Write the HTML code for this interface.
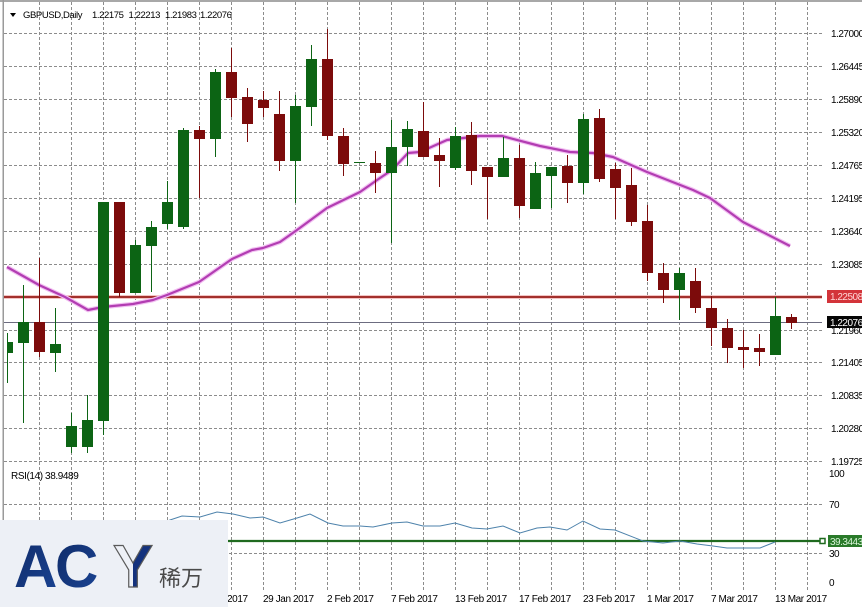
<!DOCTYPE html>
<html><head><meta charset="utf-8"><style>
html,body{margin:0;padding:0;background:#fff;}
svg{display:block;}
text{font-family:"Liberation Sans","Noto Sans CJK SC",sans-serif;}
</style></head><body>
<svg width="862" height="607" viewBox="0 0 862 607" xmlns="http://www.w3.org/2000/svg">
<defs>
<clipPath id="plot"><rect x="4" y="2" width="818" height="590"/></clipPath>
<linearGradient id="yg" x1="0" x2="1" y1="0" y2="0">
<stop offset="0" stop-color="#eef1f7"/><stop offset="0.5" stop-color="#eef1f7"/><stop offset="0.5" stop-color="#14327d"/><stop offset="1" stop-color="#14327d"/>
</linearGradient>
<linearGradient id="ag" x1="0" x2="1" y1="0" y2="1">
<stop offset="0" stop-color="#0f2a66"/><stop offset="1" stop-color="#1b4596"/>
</linearGradient>
</defs>
<rect width="862" height="607" fill="#fff"/>
<!-- borders -->
<rect x="0" y="0" width="862" height="2" fill="#a8a8a8"/>
<rect x="2.5" y="0" width="1.5" height="592" fill="#9a9a9a"/>
<!-- vertical grid -->
<g stroke="#8c8c8c" stroke-width="1" stroke-dasharray="3,2">
<line x1="39.5" y1="2" x2="39.5" y2="590"/><line x1="71.5" y1="2" x2="71.5" y2="590"/><line x1="103.5" y1="2" x2="103.5" y2="590"/><line x1="135.5" y1="2" x2="135.5" y2="590"/><line x1="167.5" y1="2" x2="167.5" y2="590"/><line x1="199.5" y1="2" x2="199.5" y2="590"/><line x1="231.5" y1="2" x2="231.5" y2="590"/><line x1="263.5" y1="2" x2="263.5" y2="590"/><line x1="295.5" y1="2" x2="295.5" y2="590"/><line x1="327.5" y1="2" x2="327.5" y2="590"/><line x1="359.5" y1="2" x2="359.5" y2="590"/><line x1="391.5" y1="2" x2="391.5" y2="590"/><line x1="423.5" y1="2" x2="423.5" y2="590"/><line x1="455.5" y1="2" x2="455.5" y2="590"/><line x1="487.5" y1="2" x2="487.5" y2="590"/><line x1="519.5" y1="2" x2="519.5" y2="590"/><line x1="551.5" y1="2" x2="551.5" y2="590"/><line x1="583.5" y1="2" x2="583.5" y2="590"/><line x1="615.5" y1="2" x2="615.5" y2="590"/><line x1="647.5" y1="2" x2="647.5" y2="590"/><line x1="679.5" y1="2" x2="679.5" y2="590"/><line x1="711.5" y1="2" x2="711.5" y2="590"/><line x1="743.5" y1="2" x2="743.5" y2="590"/><line x1="775.5" y1="2" x2="775.5" y2="590"/><line x1="807.5" y1="2" x2="807.5" y2="590"/>
</g>
<!-- horizontal grid -->
<g stroke="#8c8c8c" stroke-width="1" stroke-dasharray="3,2">
<line x1="4" y1="33.5" x2="822" y2="33.5"/><line x1="4" y1="66.5" x2="822" y2="66.5"/><line x1="4" y1="99.5" x2="822" y2="99.5"/><line x1="4" y1="132.5" x2="822" y2="132.5"/><line x1="4" y1="165.5" x2="822" y2="165.5"/><line x1="4" y1="198.5" x2="822" y2="198.5"/><line x1="4" y1="231.5" x2="822" y2="231.5"/><line x1="4" y1="264.5" x2="822" y2="264.5"/><line x1="4" y1="297.5" x2="822" y2="297.5"/><line x1="4" y1="330.5" x2="822" y2="330.5"/><line x1="4" y1="362.5" x2="822" y2="362.5"/><line x1="4" y1="395.5" x2="822" y2="395.5"/><line x1="4" y1="428.5" x2="822" y2="428.5"/><line x1="4" y1="461.5" x2="822" y2="461.5"/>
<line x1="4" y1="504.5" x2="822" y2="504.5"/><line x1="4" y1="553.5" x2="822" y2="553.5"/>
</g>
<!-- header -->
<polygon points="10,13 16,13 13,17" fill="#000"/>
<g font-size="9.5" fill="#000" letter-spacing="-0.4">
<text x="23" y="18">GBPUSD,Daily</text>
<text x="92" y="18">1.22175</text>
<text x="128.5" y="18">1.22213</text>
<text x="165" y="18">1.21983</text>
<text x="200" y="18">1.22076</text>
</g>
<g clip-path="url(#plot)">
<!-- red horizontal line -->
<line x1="4" y1="297" x2="827" y2="297" stroke="#f3c4c4" stroke-width="4"/>
<line x1="4" y1="297" x2="827" y2="297" stroke="#a3302c" stroke-width="2"/>
<!-- price line -->
<line x1="4" y1="322.5" x2="827" y2="322.5" stroke="#6c6c80" stroke-width="1"/>
<!-- MA -->
<polyline fill="none" stroke="#f2c0f2" stroke-width="4.5" stroke-linejoin="round" points="7,267 39,285 65,297 88,310 103,307 133,304 153,300 167,295 199,282 232,259 252,250 263,248 280,242 297,230 327,208 360,192 380,178 392,170 408,153 420,152 447,140 480,136 502,136 540,146 570,152 593,153 613,157 647,172 693,190 710,198 743,222 790,246"/>
<polyline fill="none" stroke="#b23db2" stroke-width="2.2" stroke-linejoin="round" points="7,267 39,285 65,297 88,310 103,307 133,304 153,300 167,295 199,282 232,259 252,250 263,248 280,242 297,230 327,208 360,192 380,178 392,170 408,153 420,152 447,140 480,136 502,136 540,146 570,152 593,153 613,157 647,172 693,190 710,198 743,222 790,246"/>
<!-- candles green -->
<g fill="#0c6414">
<rect x="7" y="333" width="1" height="50"/><rect x="7" y="342" width="6" height="11"/>
<rect x="23" y="285" width="1" height="138"/><rect x="18" y="322" width="11" height="21"/>
<rect x="55" y="308" width="1" height="64"/><rect x="50" y="344" width="11" height="9"/>
<rect x="71" y="413" width="1" height="40"/><rect x="66" y="426" width="11" height="21"/>
<rect x="87" y="395" width="1" height="58"/><rect x="82" y="420" width="11" height="27"/>
<rect x="103" y="202" width="1" height="233"/><rect x="98" y="202" width="11" height="219"/>
<rect x="135" y="240" width="1" height="53"/><rect x="130" y="245" width="11" height="48"/>
<rect x="151" y="221" width="1" height="71"/><rect x="146" y="227" width="11" height="19"/>
<rect x="167" y="181" width="1" height="48"/><rect x="162" y="202" width="11" height="22"/>
<rect x="183" y="128" width="1" height="101"/><rect x="178" y="130" width="11" height="97"/>
<rect x="215" y="69" width="1" height="88"/><rect x="210" y="72" width="11" height="67"/>
<rect x="295" y="95" width="1" height="108"/><rect x="290" y="106" width="11" height="55"/>
<rect x="311" y="45" width="1" height="81"/><rect x="306" y="59" width="11" height="48"/>
<rect x="354" y="162" width="11" height="1"/>
<rect x="391" y="120" width="1" height="123"/><rect x="386" y="147" width="11" height="26"/>
<rect x="407" y="121" width="1" height="45"/><rect x="402" y="129" width="11" height="18"/>
<rect x="455" y="127" width="1" height="43"/><rect x="450" y="136" width="11" height="32"/>
<rect x="503" y="137" width="1" height="40"/><rect x="498" y="158" width="11" height="19"/>
<rect x="535" y="162" width="1" height="47"/><rect x="530" y="173" width="11" height="36"/>
<rect x="551" y="167" width="1" height="41"/><rect x="546" y="167" width="11" height="9"/>
<rect x="583" y="114" width="1" height="80"/><rect x="578" y="119" width="11" height="64"/>
<rect x="679" y="268" width="1" height="52"/><rect x="674" y="273" width="11" height="17"/>
<rect x="775" y="297" width="1" height="58"/><rect x="770" y="316" width="11" height="39"/>
</g>
<!-- candles red -->
<g fill="#7c0b0b">
<rect x="39" y="258" width="1" height="99"/><rect x="34" y="322" width="11" height="30"/>
<rect x="119" y="202" width="1" height="95"/><rect x="114" y="202" width="11" height="91"/>
<rect x="199" y="126" width="1" height="72"/><rect x="194" y="130" width="11" height="9"/>
<rect x="231" y="48" width="1" height="69"/><rect x="226" y="72" width="11" height="26"/>
<rect x="247" y="88" width="1" height="54"/><rect x="242" y="97" width="11" height="27"/>
<rect x="263" y="91" width="1" height="26"/><rect x="258" y="100" width="11" height="8"/>
<rect x="279" y="91" width="1" height="80"/><rect x="274" y="114" width="11" height="47"/>
<rect x="327" y="29" width="1" height="111"/><rect x="322" y="59" width="11" height="77"/>
<rect x="343" y="128" width="1" height="48"/><rect x="338" y="136" width="11" height="28"/>
<rect x="375" y="151" width="1" height="42"/><rect x="370" y="163" width="11" height="10"/>
<rect x="423" y="102" width="1" height="55"/><rect x="418" y="131" width="11" height="26"/>
<rect x="439" y="138" width="1" height="49"/><rect x="434" y="155" width="11" height="6"/>
<rect x="471" y="122" width="1" height="63"/><rect x="466" y="135" width="11" height="36"/>
<rect x="487" y="167" width="1" height="52"/><rect x="482" y="167" width="11" height="10"/>
<rect x="519" y="145" width="1" height="73"/><rect x="514" y="158" width="11" height="48"/>
<rect x="567" y="155" width="1" height="48"/><rect x="562" y="166" width="11" height="17"/>
<rect x="599" y="109" width="1" height="73"/><rect x="594" y="118" width="11" height="61"/>
<rect x="615" y="163" width="1" height="56"/><rect x="610" y="169" width="11" height="19"/>
<rect x="631" y="168" width="1" height="58"/><rect x="626" y="185" width="11" height="37"/>
<rect x="647" y="205" width="1" height="76"/><rect x="642" y="221" width="11" height="52"/>
<rect x="663" y="263" width="1" height="40"/><rect x="658" y="273" width="11" height="17"/>
<rect x="695" y="268" width="1" height="45"/><rect x="690" y="281" width="11" height="27"/>
<rect x="711" y="296" width="1" height="50"/><rect x="706" y="308" width="11" height="20"/>
<rect x="727" y="319" width="1" height="44"/><rect x="722" y="328" width="11" height="20"/>
<rect x="743" y="330" width="1" height="38"/><rect x="738" y="347" width="11" height="3"/>
<rect x="759" y="334" width="1" height="32"/><rect x="754" y="348" width="11" height="4"/>
<rect x="791" y="314" width="1" height="15"/><rect x="786" y="317" width="11" height="6"/>
</g>
<!-- RSI -->
<line x1="4" y1="541" x2="822" y2="541" stroke="#1f6a1f" stroke-width="2.2"/>
<polyline fill="none" stroke="#4d82ab" stroke-width="1" points="150,528 170,520 182,516 200,517 217,512 233,514 250,518 263,517 280,523 297,518 310,514 328,523 343,526 360,526 373,527 392,523 407,522 423,526 440,526 455,523 472,528 487,529 503,526 520,533 537,528 550,527 567,530 583,521 600,529 615,530 643,541 663,543 680,541 697,544 713,546 727,548 760,548 775,542"/>
</g>
<text x="11" y="479" font-size="10" fill="#000" letter-spacing="-0.4">RSI(14) 38.9489</text>
<!-- right axis labels -->
<g font-size="10" fill="#000" letter-spacing="-0.5">
<text x="831" y="37">1.27000</text>
<text x="831" y="70">1.26445</text>
<text x="831" y="103">1.25890</text>
<text x="831" y="136">1.25320</text>
<text x="831" y="169">1.24765</text>
<text x="831" y="202">1.24195</text>
<text x="831" y="235">1.23640</text>
<text x="831" y="268">1.23085</text>
<text x="831" y="334">1.21960</text>
<text x="831" y="366">1.21405</text>
<text x="831" y="399">1.20835</text>
<text x="831" y="432">1.20280</text>
<text x="831" y="465">1.19725</text>
<text x="829" y="477">100</text>
<text x="829" y="508">70</text>
<text x="829" y="557">30</text>
<text x="829" y="586">0</text>
</g>
<rect x="827" y="290" width="35" height="13" fill="#d3343a"/>
<text x="830" y="300" font-size="10" fill="#ffd6d6" letter-spacing="-0.5">1.22508</text>
<rect x="827" y="316" width="35" height="12" fill="#050505"/>
<text x="830" y="326" font-size="10" fill="#fff" letter-spacing="-0.5">1.22076</text>
<rect x="820" y="538.5" width="5" height="5" fill="#fff" stroke="#1f6a1f" stroke-width="1.5"/>
<rect x="828" y="535" width="34" height="12" fill="#2a7a2a"/>
<text x="830" y="545" font-size="10" fill="#d8f5d8" letter-spacing="-0.5">39.3443</text>
<!-- x axis labels -->
<g font-size="10" fill="#000" letter-spacing="-0.4">
<text x="197" y="602">25 Jan 2017</text>
<text x="263" y="602">29 Jan 2017</text>
<text x="327" y="602">2 Feb 2017</text>
<text x="391" y="602">7 Feb 2017</text>
<text x="455" y="602">13 Feb 2017</text>
<text x="519" y="602">17 Feb 2017</text>
<text x="583" y="602">23 Feb 2017</text>
<text x="647" y="602">1 Mar 2017</text>
<text x="711" y="602">7 Mar 2017</text>
<text x="775" y="602">13 Mar 2017</text>
</g>
<!-- logo box -->
<rect x="0" y="520" width="228" height="87" fill="#edf0f6"/>
<text x="14" y="587" font-size="60" font-weight="bold" fill="url(#ag)">A</text>
<text x="55" y="587" font-size="60" font-weight="bold" fill="url(#ag)">C</text>
<text x="113" y="587" font-size="60" font-weight="bold" fill="url(#yg)" stroke="#5a5a5a" stroke-width="1.2">Y</text>
<text x="159" y="586" font-size="22" fill="#4a4a4a" font-family="'Liberation Sans','Noto Sans CJK SC',sans-serif">稀万</text>
</svg>
</body></html>
